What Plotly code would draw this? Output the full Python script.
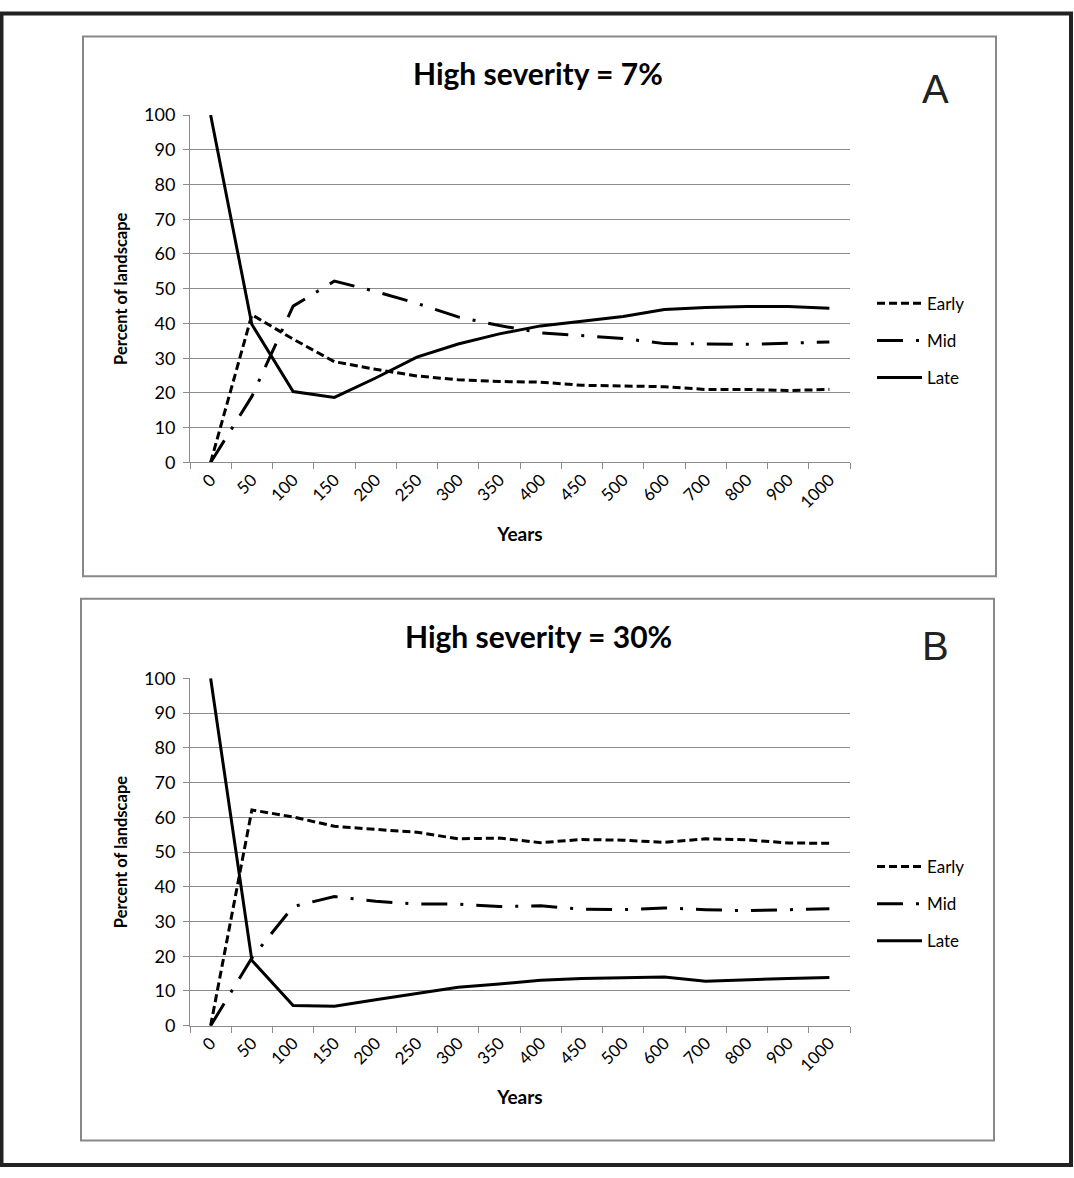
import plotly.graph_objects as go

years = ["0", "50", "100", "150", "200", "250", "300", "350", "400", "450",
         "500", "600", "700", "800", "900", "1000"]

# Panel A: High severity = 7%
early_a = [0, 42.5, 35.5, 29.0, 26.8, 24.9, 23.8, 23.3, 23.1, 22.2, 22.0, 21.8, 21.0, 21.0, 20.7, 21.0]
mid_a = [0, 19.0, 45.0, 52.2, 49.2, 45.8, 41.9, 39.4, 37.3, 36.6, 35.7, 34.2, 34.1, 34.0, 34.3, 34.7]
late_a = [100, 39.7, 20.4, 18.7, 24.3, 30.3, 34.1, 37.0, 39.3, 40.7, 42.0, 44.0, 44.6, 44.9, 44.9, 44.4]

# Panel B: High severity = 30%
early_b = [0, 62.1, 60.1, 57.4, 56.5, 55.7, 53.8, 54.0, 52.7, 53.6, 53.4, 52.8, 53.8, 53.5, 52.6, 52.5]
mid_b = [0, 19.5, 34.3, 37.2, 35.8, 35.0, 35.0, 34.3, 34.5, 33.5, 33.4, 33.9, 33.4, 33.1, 33.4, 33.7]
late_b = [100, 18.8, 5.8, 5.6, 7.5, 9.2, 11.1, 12.0, 13.1, 13.6, 13.9, 14.0, 12.8, 13.3, 13.6, 13.9]

titles = ["High severity = 7%", "High severity = 30%"]
panel_letters = ["A", "B"]
series_names = ["Early", "Mid", "Late"]

W, H = 1074, 1178
FONT = "Lato"
GRID = "#8c8c8c"

styles = {
    "Early": dict(color="black", width=3, dash="8px,4px"),
    "Mid": dict(color="black", width=3, dash="26px,13px,3px,13px"),
    "Late": dict(color="black", width=3, dash="solid"),
}

fig = go.Figure()

panels = [
    dict(series=[early_a, mid_a, late_a], xa="x", ya="y", legend="legend"),
    dict(series=[early_b, mid_b, late_b], xa="x2", ya="y2", legend="legend2"),
]

for p in panels:
    for name, vals in zip(series_names, p["series"]):
        fig.add_trace(go.Scatter(
            x=years, y=vals, name=name, mode="lines",
            line=styles[name], xaxis=p["xa"], yaxis=p["ya"],
            legend=p["legend"], legendgroup=p["legend"] + name,
        ))

def py(pix):
    return 1 - pix / H

def px(pix):
    return pix / W

x_dom = [px(190), px(850)]
doms = [[py(459), py(105)], [py(1033), py(679)]]

axis_common_x = dict(
    type="category", categoryorder="array", categoryarray=years,
    range=[-0.5, len(years) - 0.5], tickson="boundaries",
    ticks="outside", ticklen=6, tickcolor=GRID, tickwidth=1,
    showline=True, linecolor=GRID, linewidth=1, showgrid=False,
    tickangle=-45, tickfont=dict(family=FONT, size=17, color="black"),
    title=dict(text="<b>Years</b>", font=dict(family=FONT, size=19, color="black"), standoff=16),
    domain=x_dom, zeroline=False,
)
axis_common_y = dict(
    range=[0, 100], dtick=10, tick0=0, ticks="outside", ticklen=6,
    tickcolor=GRID, showline=True, linecolor=GRID, linewidth=1,
    showgrid=True, gridcolor=GRID, gridwidth=1, zeroline=False,
    tickfont=dict(family=FONT, size=18, color="black"), ticklabelstandoff=4,
    title=dict(text="<b>Percent of landscape</b>", font=dict(family=FONT, size=16.5, color="black"), standoff=12),
)

fig.update_layout(
    width=W, height=H,
    margin=dict(l=0, r=0, t=0, b=0),
    paper_bgcolor="white", plot_bgcolor="white",
    font=dict(family=FONT, color="black"),
    xaxis=dict(axis_common_x, anchor="y"),
    yaxis=dict(axis_common_y, domain=doms[0], anchor="x"),
    xaxis2=dict(axis_common_x, anchor="y2"),
    yaxis2=dict(axis_common_y, domain=doms[1], anchor="x2"),
    legend=dict(x=px(872), y=py(279), xanchor="left", yanchor="top",
                font=dict(family=FONT, size=17, color="black"),
                bgcolor="rgba(0,0,0,0)", tracegroupgap=12, itemwidth=45),
    legend2=dict(x=px(872), y=py(853), xanchor="left", yanchor="top",
                 font=dict(family=FONT, size=17, color="black"),
                 bgcolor="rgba(0,0,0,0)", tracegroupgap=12, itemwidth=45),
    showlegend=True,
)

# Panel boxes and outer frame
shapes = [
    dict(type="rect", xref="paper", yref="paper", x0=px(83), x1=px(996), y0=py(575), y1=py(25),
         line=dict(color="#888888", width=2), layer="below"),
    dict(type="rect", xref="paper", yref="paper", x0=px(81), x1=px(994), y0=py(1150), y1=py(598),
         line=dict(color="#888888", width=2), layer="below"),
    dict(type="rect", xref="paper", yref="paper", x0=px(1.5), x1=px(1071), y0=py(1175), y1=py(1.5),
         line=dict(color="#222222", width=4), layer="above"),
]
fig.update_layout(shapes=shapes)

annotations = []
for title, letter, ty, ly in zip(titles, panel_letters, [62, 636], [78, 646]):
    annotations.append(dict(text="<b>" + title + "</b>", x=px(538), y=py(ty), xref="paper", yref="paper",
                            showarrow=False, xanchor="center", yanchor="middle",
                            font=dict(family=FONT, size=30, color="black")))
    annotations.append(dict(text=letter, x=px(935), y=py(ly), xref="paper", yref="paper",
                            showarrow=False, xanchor="center", yanchor="middle",
                            font=dict(family="Liberation Sans", size=40, color="#222222")))
fig.update_layout(annotations=annotations)

post = """
var d = document.getElementById('{plot_id}');
var h = document.documentElement, b = document.body;
h.style.margin = '0'; h.style.padding = '0'; h.style.height = '1178px'; h.style.overflow = 'hidden';
b.style.margin = '0'; b.style.padding = '0'; b.style.height = '1178px'; b.style.overflow = 'hidden';
d.style.position = 'absolute'; d.style.top = '0px'; d.style.left = '0px';
"""

fig.write_html("out.html", config={"displayModeBar": False}, post_script=post)
